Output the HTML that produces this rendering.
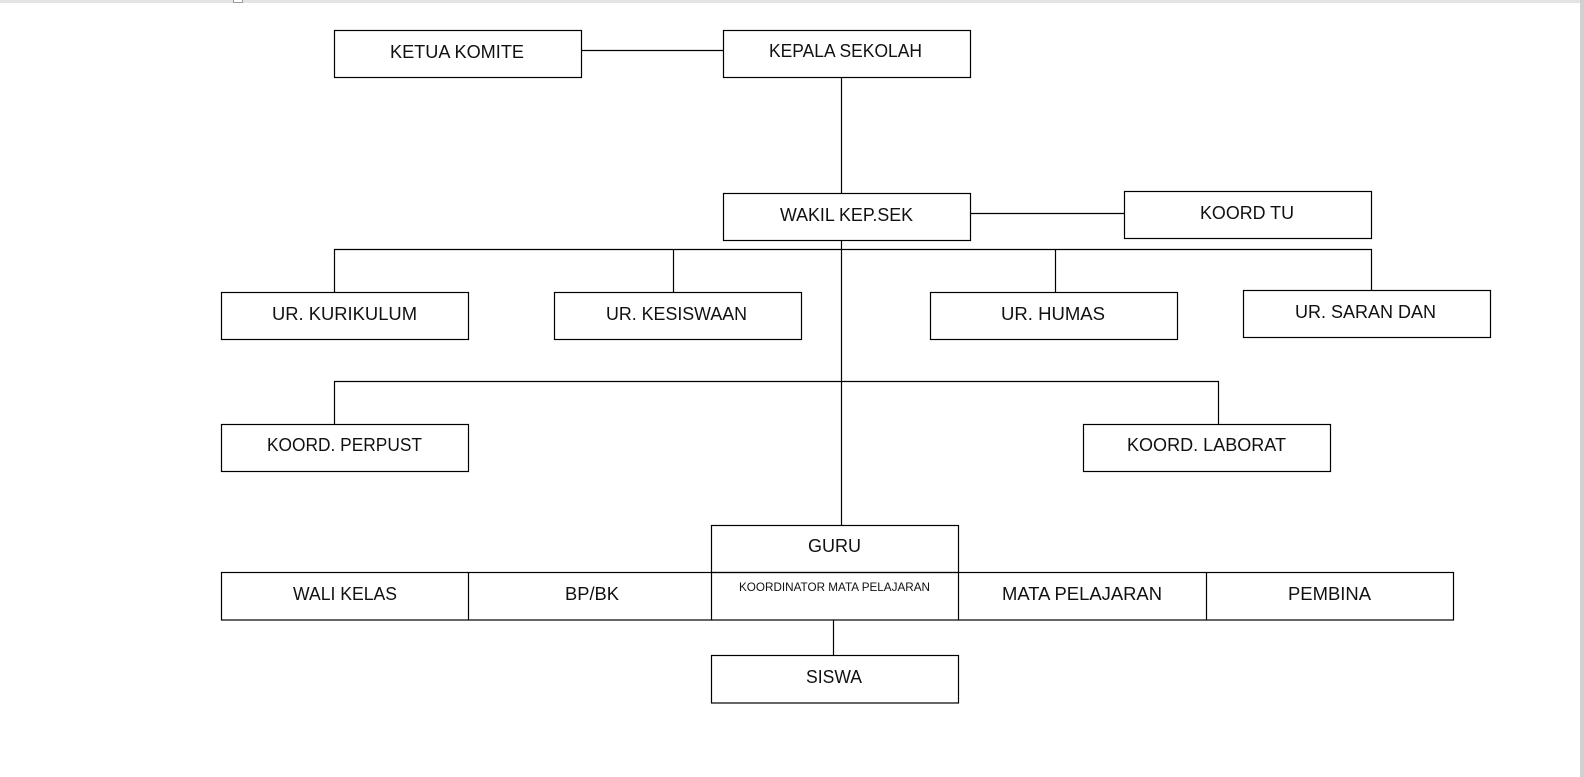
<!DOCTYPE html>
<html><head><meta charset="utf-8"><style>
html,body{margin:0;padding:0;background:#fff;overflow:hidden;width:1584px;height:777px;}
svg{display:block;}
text{font-family:"Liberation Sans",sans-serif;font-size:18px;fill:#111;}
</style></head><body>
<svg width="1584" height="777" xmlns="http://www.w3.org/2000/svg">
<rect x="0" y="0" width="1584" height="3" fill="#e4e4e4"/>
<rect x="1580" y="0" width="4" height="777" fill="#d0d0d0"/>
<rect x="233.5" y="-1" width="9" height="3.5" fill="#fff" stroke="#999" stroke-width="1"/>
<g fill="none" stroke="#000" stroke-width="1.2">
<rect x="334.5" y="30.5" width="247" height="47"/>
<rect x="723.5" y="30.5" width="247" height="47"/>
<line x1="581.5" y1="50.5" x2="723.5" y2="50.5"/>
<line x1="841.5" y1="77.5" x2="841.5" y2="193.5"/>
<rect x="723.5" y="193.5" width="247" height="47"/>
<rect x="1124.5" y="191.5" width="247" height="47"/>
<line x1="970.5" y1="213.5" x2="1124.5" y2="213.5"/>
<polyline points="334.5,292.5 334.5,249.5 1371.5,249.5 1371.5,290.5"/>
<line x1="673.5" y1="249.5" x2="673.5" y2="292.5"/>
<line x1="1055.5" y1="249.5" x2="1055.5" y2="292.5"/>
<rect x="221.5" y="292.5" width="247" height="47"/>
<rect x="554.5" y="292.5" width="247" height="47"/>
<rect x="930.5" y="292.5" width="247" height="47"/>
<rect x="1243.5" y="290.5" width="247" height="47"/>
<line x1="841.5" y1="240.5" x2="841.5" y2="525.5"/>
<polyline points="334.5,424.5 334.5,381.5 1218.5,381.5 1218.5,424.5"/>
<rect x="221.5" y="424.5" width="247" height="47"/>
<rect x="1083.5" y="424.5" width="247" height="47"/>
<rect x="711.5" y="525.5" width="247" height="47"/>
<rect x="221.5" y="572.5" width="1232" height="47.5"/>
<line x1="468.5" y1="572.5" x2="468.5" y2="620"/>
<line x1="711.5" y1="572.5" x2="711.5" y2="620"/>
<line x1="958.5" y1="572.5" x2="958.5" y2="620"/>
<line x1="1206.5" y1="572.5" x2="1206.5" y2="620"/>
<line x1="833.5" y1="620" x2="833.5" y2="655.5"/>
<rect x="711.5" y="655.5" width="247" height="47.5"/>
</g>
<text x="390" y="58" textLength="134" lengthAdjust="spacingAndGlyphs">KETUA KOMITE</text>
<text x="769" y="57" textLength="153" lengthAdjust="spacingAndGlyphs">KEPALA SEKOLAH</text>
<text x="780" y="221" textLength="133" lengthAdjust="spacingAndGlyphs">WAKIL KEP.SEK</text>
<text x="1200" y="219" textLength="94" lengthAdjust="spacingAndGlyphs">KOORD TU</text>
<text x="272" y="320" textLength="145" lengthAdjust="spacingAndGlyphs">UR. KURIKULUM</text>
<text x="606" y="320" textLength="141" lengthAdjust="spacingAndGlyphs">UR. KESISWAAN</text>
<text x="1001" y="320" textLength="104" lengthAdjust="spacingAndGlyphs">UR. HUMAS</text>
<text x="1295" y="318" textLength="141" lengthAdjust="spacingAndGlyphs">UR. SARAN DAN</text>
<text x="267" y="451" textLength="155" lengthAdjust="spacingAndGlyphs">KOORD. PERPUST</text>
<text x="1127" y="451" textLength="159" lengthAdjust="spacingAndGlyphs">KOORD. LABORAT</text>
<text x="808" y="552" textLength="53" lengthAdjust="spacingAndGlyphs">GURU</text>
<text x="293" y="600" textLength="104" lengthAdjust="spacingAndGlyphs">WALI KELAS</text>
<text x="565" y="600" textLength="54" lengthAdjust="spacingAndGlyphs">BP/BK</text>
<text x="739" y="591" style="font-size:12px" textLength="191" lengthAdjust="spacingAndGlyphs">KOORDINATOR MATA PELAJARAN</text>
<text x="1002" y="600" textLength="160" lengthAdjust="spacingAndGlyphs">MATA PELAJARAN</text>
<text x="1288" y="600" textLength="83" lengthAdjust="spacingAndGlyphs">PEMBINA</text>
<text x="806" y="683" textLength="56" lengthAdjust="spacingAndGlyphs">SISWA</text>
</svg>
</body></html>
